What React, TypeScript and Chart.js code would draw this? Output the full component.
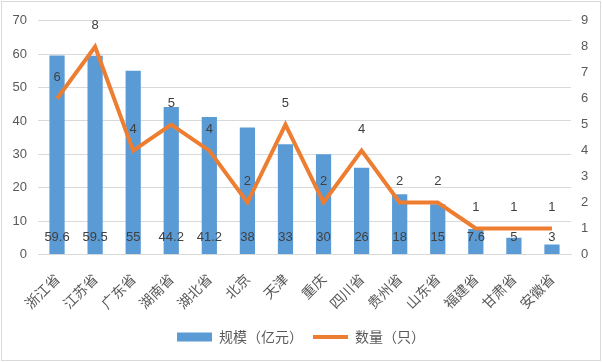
import React, { useEffect, useRef } from "react";
import { Chart, registerables } from "chart.js";

Chart.register(...registerables);

const categories = ["浙江省", "江苏省", "广东省", "湖南省", "湖北省", "北京", "天津", "重庆", "四川省", "贵州省", "山东省", "福建省", "甘肃省", "安徽省"];
const scaleValues = [59.6, 59.5, 55, 44.2, 41.2, 38, 33, 30, 26, 18, 15, 7.6, 5, 3];
const countValues = [6, 8, 4, 5, 4, 2, 5, 2, 4, 2, 2, 1, 1, 1];
const scaleLabel = "规模（亿元）";
const countLabel = "数量（只）";

const FONT = "'Noto Sans CJK SC', 'DejaVu Sans', sans-serif";
const NUMFONT = "'Liberation Sans', 'Noto Sans', sans-serif";
const TEXT = "#595959";

const labelPlugin = {
  id: "valueLabels",
  afterDatasetsDraw(chart: any) {
    const ctx = chart.ctx;
    ctx.save();
    ctx.font = `13px ${NUMFONT}`;
    ctx.fillStyle = "#404040";
    ctx.textAlign = "center";
    ctx.textBaseline = "middle";
    const yl = chart.scales.y;
    const barMeta = chart.getDatasetMeta(0);
    barMeta.data.forEach((el: any, i: number) => {
      ctx.fillText(String(scaleValues[i]), el.x, yl.getPixelForValue(0) - 17);
    });
    const lineMeta = chart.getDatasetMeta(1);
    lineMeta.data.forEach((el: any, i: number) => {
      ctx.fillText(String(countValues[i]), el.x, el.y - 21);
    });
    ctx.restore();
  },
};

export default function App() {
  const ref = useRef<HTMLCanvasElement>(null);
  useEffect(() => {
    const chart = new Chart(ref.current!, {
      type: "bar",
      data: {
        labels: categories,
        datasets: [
          {
            type: "bar",
            label: scaleLabel,
            data: scaleValues,
            backgroundColor: "#5B9BD5",
            borderWidth: 0,
            yAxisID: "y",
            categoryPercentage: 1,
            barPercentage: 0.4,
            pointStyle: "rect",
            order: 2,
          } as any,
          {
            type: "line",
            label: countLabel,
            data: countValues,
            borderColor: "#ED7D31",
            backgroundColor: "#ED7D31",
            borderWidth: 4,
            pointRadius: 0,
            pointStyle: "line",
            yAxisID: "y1",
            tension: 0,
            order: 1,
          } as any,
        ],
      },
      options: {
        responsive: false,
        animation: false,
        maintainAspectRatio: false,
        layout: { padding: { left: 0, right: 0, top: 12, bottom: 6 } },
        plugins: {
          tooltip: { enabled: false },
          legend: {
            position: "bottom",
            labels: {
              usePointStyle: true,
              pointStyleWidth: 35,
              boxHeight: 9,
              font: { family: FONT, size: 14 },
              color: TEXT,
              padding: 10,
              sort: (a: any, b: any) => a.datasetIndex - b.datasetIndex,
            },
          },
        },
        scales: {
          x: {
            grid: { display: false },
            border: { color: "#d9d9d9" },
            ticks: {
              minRotation: 45,
              maxRotation: 45,
              color: TEXT,
              font: { family: FONT, size: 14 },
              padding: 8,
            },
          },
          y: {
            position: "left",
            min: 0,
            max: 70,
            afterFit: (s: any) => { s.width = 36; },
            ticks: { stepSize: 10, color: TEXT, font: { family: NUMFONT, size: 13 }, padding: 11 },
            grid: { color: "#d9d9d9", drawTicks: false },
            border: { display: false },
          },
          y1: {
            position: "right",
            min: 0,
            max: 9,
            afterFit: (s: any) => { s.width = 29; },
            ticks: { stepSize: 1, color: TEXT, font: { family: NUMFONT, size: 13 }, padding: 10 },
            grid: { display: false, drawTicks: false },
            border: { display: false },
          },
        },
      },
      plugins: [labelPlugin],
    });
    return () => chart.destroy();
  }, []);
  return (
    <div style={{ position: "fixed", left: 0, top: 0, width: 602, height: 362, background: "#fff" }}>
      <div style={{ position: "absolute", left: 1, top: 1, width: 598, height: 358, border: "1px solid #d9d9d9" }}>
        <canvas ref={ref} width={598} height={358} />
      </div>
    </div>
  );
}
